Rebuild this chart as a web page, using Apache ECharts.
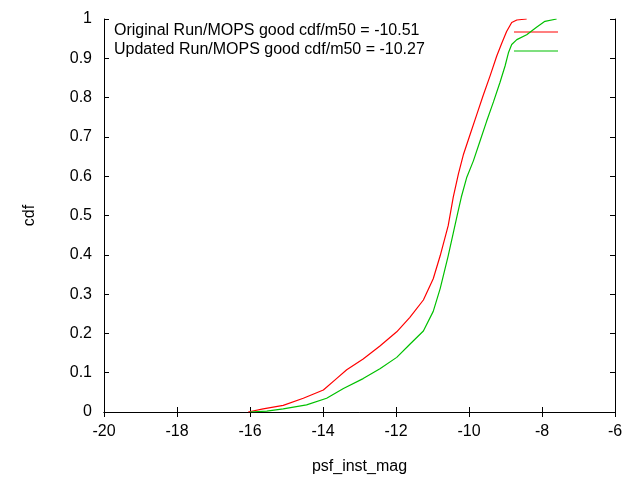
<!DOCTYPE html>
<html>
<head>
<meta charset="utf-8">
<script src="https://cdn.jsdelivr.net/npm/echarts@6/dist/echarts.min.js"></script>
<style>html,body{margin:0;padding:0;background:#fff}#c{width:640px;height:480px}</style>
</head>
<body>
<div id="c"></div>
<script>
var xTicks = [-20, -18, -16, -14, -12, -10, -8, -6];
var yTicks = [0, 0.1, 0.2, 0.3, 0.4, 0.5, 0.6, 0.7, 0.8, 0.9, 1];
var legendNames = ['Original Run/MOPS good cdf/m50 = -10.51', 'Updated Run/MOPS good cdf/m50 = -10.27'];

var redMag = [-16.05, -15.64, -15.09, -14.54, -13.99, -13.63, -13.35, -12.90, -12.44, -11.98, -11.62, -11.25, -10.98, -10.79, -10.57, -10.43, -10.29, -10.15, -9.97, -9.79, -9.61, -9.42, -9.24, -9.10, -8.97, -8.83, -8.69, -8.42];
var redCdf = [0, 0.008, 0.017, 0.035, 0.056, 0.085, 0.1075, 0.135, 0.168, 0.204, 0.241, 0.285, 0.339, 0.3975, 0.474, 0.5475, 0.606, 0.656, 0.706, 0.756, 0.806, 0.856, 0.906, 0.939, 0.968, 0.991, 0.9975, 1.0];

var greenMag = [-16.0, -15.54, -15.09, -14.45, -13.90, -13.44, -12.90, -12.44, -11.98, -11.62, -11.25, -10.98, -10.79, -10.57, -10.43, -10.31, -10.21, -10.06, -9.88, -9.70, -9.52, -9.33, -9.15, -9.01, -8.92, -8.83, -8.69, -8.42, -8.15, -7.92, -7.60];
var greenCdf = [0, 0.002, 0.008, 0.018, 0.035, 0.06, 0.085, 0.11, 0.139, 0.1725, 0.206, 0.256, 0.314, 0.3975, 0.456, 0.506, 0.547, 0.5975, 0.639, 0.689, 0.739, 0.789, 0.839, 0.881, 0.914, 0.935, 0.9475, 0.96, 0.979, 0.994, 1.0];

function pairs(xs, ys) { return xs.map(function (v, i) { return [v, ys[i]]; }); }

var FONT = '"Liberation Sans", Arial, sans-serif';
var RED = '#ff0000', GREEN = '#00c000';

var chart = echarts.init(document.getElementById('c'), null, {renderer: 'canvas'});
var axisLine = {show: true, lineStyle: {color: '#000', width: 1}};
var tick = {show: true, inside: true, length: 5, lineStyle: {color: '#000'}};
chart.setOption({
  animation: false,
  backgroundColor: '#fff',
  grid: {left: 104, right: 25, top: 19, bottom: 61, containLabel: false},
  xAxis: [{
    type: 'value', min: xTicks[0], max: xTicks[xTicks.length - 1], interval: 2,
    name: 'psf_inst_mag', nameLocation: 'middle', nameGap: 47,
    nameTextStyle: {fontFamily: FONT, fontSize: 16, color: '#000'},
    axisLine: axisLine, axisTick: tick, splitLine: {show: false},
    axisLabel: {fontFamily: FONT, fontSize: 16, color: '#000', margin: 12}
  }, {
    type: 'value', position: 'top', min: xTicks[0], max: xTicks[xTicks.length - 1], interval: 2,
    axisLine: axisLine, axisTick: tick, splitLine: {show: false}, axisLabel: {show: false}
  }],
  yAxis: [{
    type: 'value', min: 0, max: 1, interval: 0.1,
    name: 'cdf', nameLocation: 'middle', nameGap: 66,
    nameTextStyle: {fontFamily: FONT, fontSize: 16, color: '#000'},
    axisLine: axisLine, axisTick: tick, splitLine: {show: false},
    axisLabel: {fontFamily: FONT, fontSize: 16, color: '#000', margin: 12,
      formatter: function (v) { return String(Math.round(v * 10) / 10); }}
  }, {
    type: 'value', position: 'right', min: 0, max: 1, interval: 0.1,
    axisLine: axisLine, axisTick: tick, splitLine: {show: false}, axisLabel: {show: false}
  }],
  series: [{
    name: legendNames[0], type: 'line', data: pairs(redMag, redCdf), showSymbol: false,
    lineStyle: {color: RED, width: 1.2}, itemStyle: {color: RED}
  }, {
    name: legendNames[1], type: 'line', data: pairs(greenMag, greenCdf), showSymbol: false,
    lineStyle: {color: GREEN, width: 1.2}, itemStyle: {color: GREEN}
  }],
  graphic: [
    {type: 'text', left: 114, top: 23, style: {text: legendNames[0], font: '16px ' + FONT, fill: '#000'}},
    {type: 'text', left: 114, top: 42, style: {text: legendNames[1], font: '16px ' + FONT, fill: '#000'}},
    {type: 'line', shape: {x1: 514, y1: 32, x2: 558, y2: 32}, style: {stroke: RED, lineWidth: 1.2}},
    {type: 'line', shape: {x1: 514, y1: 51, x2: 558, y2: 51}, style: {stroke: GREEN, lineWidth: 1.2}}
  ]
});
</script>
</body>
</html>
